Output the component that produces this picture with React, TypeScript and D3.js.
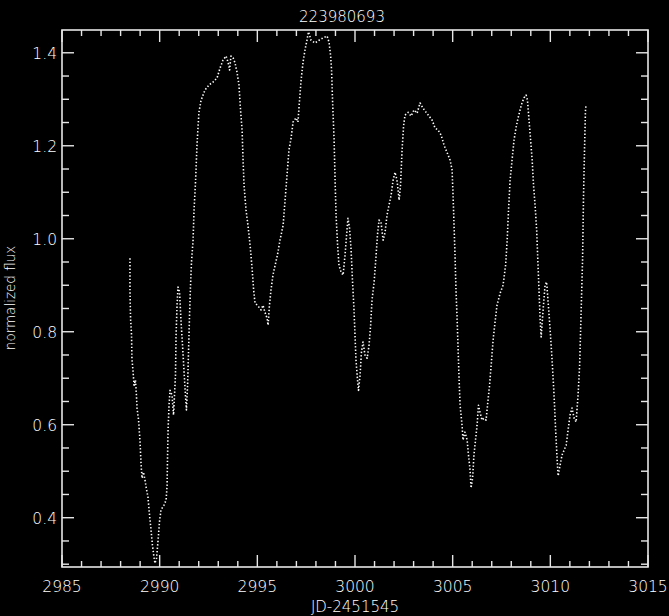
import React from "react";
import * as d3 from "d3";

// Light curve of target 223980693: time (JD-2451545) and normalized flux
const jd: number[] = [
  2988.48, 2988.48, 2988.51, 2988.56, 2988.58, 2988.64, 2988.69, 2988.76, 2988.81, 2988.84,
  2988.92, 2988.99, 2989.05, 2989.10, 2989.17, 2989.25, 2989.33, 2989.40, 2989.48, 2989.56,
  2989.63, 2989.71, 2989.76, 2989.84, 2989.92, 2989.99, 2990.07, 2990.22, 2990.33, 2990.38,
  2990.40, 2990.43, 2990.48, 2990.53, 2990.63, 2990.71, 2990.76, 2990.81, 2990.84, 2990.89,
  2990.94, 2991.02, 2991.09, 2991.17, 2991.25, 2991.32, 2991.37, 2991.43, 2991.48, 2991.53,
  2991.58, 2991.63, 2991.71, 2991.76, 2991.84, 2991.91, 2992.01, 2992.12, 2992.32, 2992.53,
  2992.73, 2992.94, 2993.09, 2993.24, 2993.40, 2993.50, 2993.58, 2993.65, 2993.76, 2993.86,
  2993.96, 2994.06, 2994.14, 2994.22, 2994.27, 2994.32, 2994.42, 2994.52, 2994.63, 2994.73,
  2994.81, 2994.88, 2995.04, 2995.19, 2995.29, 2995.39, 2995.50, 2995.55, 2995.62, 2995.70,
  2995.80, 2995.91, 2996.03, 2996.16, 2996.32, 2996.42, 2996.52, 2996.62, 2996.73, 2996.83,
  2996.98, 2997.08, 2997.16, 2997.24, 2997.34, 2997.44, 2997.54, 2997.62, 2997.75, 2997.95,
  2998.16, 2998.36, 2998.57, 2998.67, 2998.75, 2998.80, 2998.85, 2998.93, 2998.98, 2999.03,
  2999.11, 2999.18, 2999.29, 2999.39, 2999.49, 2999.57, 2999.64, 2999.72, 2999.80, 2999.87,
  2999.95, 3000.00, 3000.05, 3000.13, 3000.18, 3000.26, 3000.33, 3000.41, 3000.51, 3000.62,
  3000.72, 3000.80, 3000.87, 3000.98, 3001.08, 3001.15, 3001.23, 3001.33, 3001.44, 3001.54,
  3001.64, 3001.74, 3001.85, 3001.95, 3002.05, 3002.15, 3002.26, 3002.33, 3002.41, 3002.49,
  3002.56, 3002.72, 3002.87, 3003.02, 3003.18, 3003.33, 3003.48, 3003.64, 3003.79, 3003.95,
  3004.10, 3004.25, 3004.41, 3004.56, 3004.71, 3004.87, 3004.97, 3005.02, 3005.07, 3005.12,
  3005.17, 3005.23, 3005.28, 3005.33, 3005.38, 3005.48, 3005.53, 3005.63, 3005.74, 3005.81,
  3005.89, 3005.94, 3006.02, 3006.09, 3006.17, 3006.25, 3006.32, 3006.40, 3006.50, 3006.60,
  3006.71, 3006.81, 3006.89, 3006.97, 3007.07, 3007.17, 3007.27, 3007.43, 3007.58, 3007.71,
  3007.79, 3007.86, 3007.94, 3008.04, 3008.14, 3008.25, 3008.35, 3008.45, 3008.55, 3008.65,
  3008.76, 3008.83, 3008.91, 3008.99, 3009.07, 3009.14, 3009.22, 3009.30, 3009.37, 3009.43,
  3009.48, 3009.53, 3009.63, 3009.73, 3009.81, 3009.88, 3009.99, 3010.09, 3010.19, 3010.27,
  3010.35, 3010.40, 3010.50, 3010.60, 3010.70, 3010.81, 3010.91, 3011.01, 3011.11, 3011.22,
  3011.32, 3011.42, 3011.50, 3011.55, 3011.60, 3011.65, 3011.70, 3011.75, 3011.80, 3011.83,
];

const flux: number[] = [
  0.958, 0.890, 0.829, 0.793, 0.743, 0.713, 0.685, 0.696, 0.664, 0.636,
  0.610, 0.567, 0.513, 0.485, 0.498, 0.481, 0.460, 0.445, 0.406, 0.373,
  0.341, 0.315, 0.302, 0.313, 0.352, 0.391, 0.417, 0.427, 0.438, 0.470,
  0.524, 0.589, 0.642, 0.674, 0.664, 0.621, 0.664, 0.707, 0.793, 0.857,
  0.896, 0.885, 0.825, 0.771, 0.713, 0.664, 0.632, 0.685, 0.761, 0.836,
  0.900, 0.950, 0.997, 1.062, 1.126, 1.201, 1.272, 1.298, 1.320, 1.331,
  1.337, 1.346, 1.367, 1.384, 1.393, 1.380, 1.363, 1.393, 1.389, 1.378,
  1.358, 1.331, 1.277, 1.234, 1.169, 1.115, 1.062, 1.029, 0.986, 0.937,
  0.890, 0.862, 0.855, 0.847, 0.857, 0.842, 0.829, 0.814, 0.857, 0.890,
  0.922, 0.943, 0.965, 0.997, 1.029, 1.083, 1.137, 1.191, 1.217, 1.251,
  1.260, 1.251, 1.298, 1.341, 1.380, 1.406, 1.427, 1.445, 1.427, 1.421,
  1.427, 1.432, 1.436, 1.423, 1.395, 1.363, 1.298, 1.212, 1.126, 1.051,
  0.986, 0.943, 0.928, 0.922, 0.965, 1.008, 1.044, 1.023, 0.976, 0.911,
  0.847, 0.793, 0.739, 0.696, 0.674, 0.707, 0.756, 0.778, 0.750, 0.743,
  0.771, 0.814, 0.868, 0.907, 0.965, 1.008, 1.040, 1.036, 0.997, 1.014,
  1.051, 1.072, 1.094, 1.126, 1.143, 1.126, 1.083, 1.115, 1.191, 1.244,
  1.266, 1.272, 1.264, 1.277, 1.270, 1.292, 1.281, 1.272, 1.264, 1.255,
  1.238, 1.234, 1.223, 1.201, 1.186, 1.169, 1.148, 1.094, 1.029, 0.965,
  0.890, 0.825, 0.761, 0.696, 0.642, 0.599, 0.567, 0.584, 0.567, 0.535,
  0.503, 0.464, 0.485, 0.535, 0.567, 0.599, 0.642, 0.627, 0.610, 0.614,
  0.610, 0.653, 0.685, 0.728, 0.782, 0.821, 0.857, 0.883, 0.900, 0.943,
  0.997, 1.062, 1.126, 1.169, 1.212, 1.240, 1.260, 1.277, 1.292, 1.303,
  1.309, 1.298, 1.255, 1.212, 1.169, 1.115, 1.072, 1.019, 0.943, 0.879,
  0.825, 0.789, 0.847, 0.900, 0.907, 0.868, 0.804, 0.739, 0.664, 0.589,
  0.524, 0.490, 0.513, 0.535, 0.545, 0.556, 0.589, 0.621, 0.636, 0.614,
  0.606, 0.664, 0.728, 0.803, 0.879, 0.954, 1.094, 1.191, 1.277, 1.287,
];

const xMajorTicks: number[] = [2985, 2990, 2995, 3000, 3005, 3010, 3015];
const yMajorTicks: number[] = [0.4, 0.6, 0.8, 1.0, 1.2, 1.4];

const titleText = "223980693";
const xLabelText = "JD-2451545";
const yLabelText = "normalized flux";

const W = 669;
const H = 616;
const left = 62;
const right = 648;
const top = 30;
const bottom = 567;
const ink = "#e6e6e6";
const textInk = "#ffffff";
const fontFamily = "'DejaVu Sans', sans-serif";
const fontWeight = 200;

export default function App() {
  const x = d3.scaleLinear().domain([2985, 3015]).range([left, right]);
  const y = d3.scaleLinear().domain([0.294, 1.449]).range([bottom, top]);

  const points: [number, number][] = jd.map((t, i) => [t, flux[i]]);
  const path = d3
    .line<[number, number]>()
    .x((d) => x(d[0]))
    .y((d) => y(d[1]))(points) as string;

  const xMinor = d3.range(2985, 3015.001, 1).filter((v) => !xMajorTicks.includes(v));
  const yMinor = d3
    .range(0.3, 1.45, 0.05)
    .map((v) => Math.round(v * 100) / 100)
    .filter((v) => !yMajorTicks.some((m) => Math.abs(m - v) < 1e-6));

  const fmtY = d3.format(".1f");

  return (
    <svg
      width={W}
      height={H}
      style={{ position: "fixed", left: 0, top: 0, display: "block", background: "#000" }}
    >
      <rect x={0} y={0} width={W} height={H} fill="#000" />

      {/* data */}
      <path
        d={path}
        fill="none"
        stroke="#ffffff"
        strokeWidth={1.6}
        strokeDasharray="1.4 2"
        strokeLinejoin="round"
      />

      {/* frame */}
      <rect
        x={left}
        y={top}
        width={right - left}
        height={bottom - top}
        fill="none"
        stroke={ink}
        strokeWidth={1.6}
      />

      {/* x ticks, bottom and top */}
      {xMajorTicks.map((v) => (
        <g key={`xM${v}`}>
          <line x1={x(v)} x2={x(v)} y1={bottom} y2={bottom - 12} stroke={ink} strokeWidth={1.4} />
          <line x1={x(v)} x2={x(v)} y1={top} y2={top + 12} stroke={ink} strokeWidth={1.4} />
          <text
            x={x(v)}
            y={592}
            fill={textInk}
            fontSize={15.5}
            fontFamily={fontFamily}
            fontWeight={fontWeight}
            textAnchor="middle"
          >
            {String(v)}
          </text>
        </g>
      ))}
      {xMinor.map((v) => (
        <g key={`xm${v}`}>
          <line x1={x(v)} x2={x(v)} y1={bottom} y2={bottom - 6} stroke={ink} strokeWidth={1.4} />
          <line x1={x(v)} x2={x(v)} y1={top} y2={top + 6} stroke={ink} strokeWidth={1.4} />
        </g>
      ))}

      {/* y ticks, left and right */}
      {yMajorTicks.map((v) => (
        <g key={`yM${v}`}>
          <line x1={left} x2={left + 12} y1={y(v)} y2={y(v)} stroke={ink} strokeWidth={1.4} />
          <line x1={right} x2={right - 12} y1={y(v)} y2={y(v)} stroke={ink} strokeWidth={1.4} />
          <text
            x={57}
            y={y(v) + 6}
            fill={textInk}
            fontSize={15.5}
            fontFamily={fontFamily}
            fontWeight={fontWeight}
            textAnchor="end"
          >
            {fmtY(v)}
          </text>
        </g>
      ))}
      {yMinor.map((v) => (
        <g key={`ym${v}`}>
          <line x1={left} x2={left + 7} y1={y(v)} y2={y(v)} stroke={ink} strokeWidth={1.4} />
          <line x1={right} x2={right - 7} y1={y(v)} y2={y(v)} stroke={ink} strokeWidth={1.4} />
        </g>
      ))}

      {/* labels */}
      <text
        x={342}
        y={22}
        fill={textInk}
        fontSize={15}
        fontFamily={fontFamily}
        fontWeight={fontWeight}
        textAnchor="middle"
      >
        {titleText}
      </text>
      <text
        x={355}
        y={612}
        fill={textInk}
        fontSize={15}
        fontFamily={fontFamily}
        fontWeight={fontWeight}
        textAnchor="middle"
      >
        {xLabelText}
      </text>
      <text
        transform="translate(15,298) rotate(-90)"
        fill={textInk}
        fontSize={13.5}
        fontFamily={fontFamily}
        fontWeight={fontWeight}
        textAnchor="middle"
      >
        {yLabelText}
      </text>
    </svg>
  );
}
